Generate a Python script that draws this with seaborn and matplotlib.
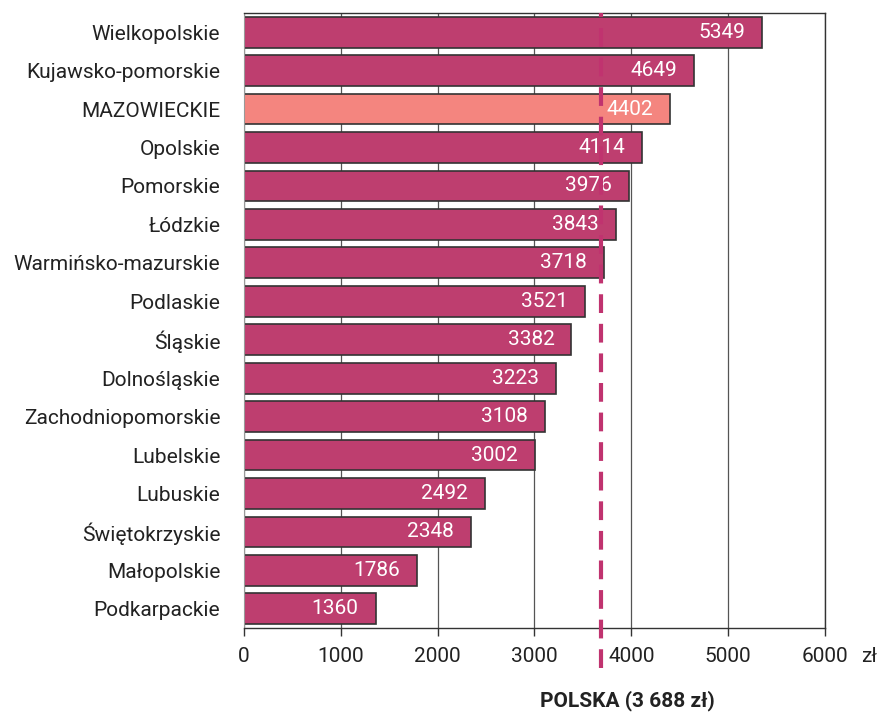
import matplotlib
matplotlib.use("Agg")
import matplotlib.pyplot as plt
import seaborn as sns
import pandas as pd

# data
regions = ["Wielkopolskie", "Kujawsko-pomorskie", "MAZOWIECKIE", "Opolskie", "Pomorskie",
           "Łódzkie", "Warmińsko-mazurskie", "Podlaskie", "Śląskie", "Dolnośląskie",
           "Zachodniopomorskie", "Lubelskie", "Lubuskie", "Świętokrzyskie", "Małopolskie",
           "Podkarpackie"]
values = [5349, 4649, 4402, 4114, 3976, 3843, 3718, 3521, 3382, 3223, 3108, 3002,
          2492, 2348, 1786, 1360]
polska = 3688
x_ticks = [0, 1000, 2000, 3000, 4000, 5000, 6000]

df = pd.DataFrame({"region": regions, "value": values})

sns.set_style("white")
plt.rcParams["font.family"] = ["Roboto", "DejaVu Sans"]

bar_color = "#BE3E6F"
highlight = "#F4857F"
palette = {r: (highlight if r == "MAZOWIECKIE" else bar_color) for r in regions}

fs = 15

fig = plt.figure(figsize=(8.77, 7.15), dpi=100)
ax = fig.add_axes([0.278, 0.1217, 0.6627, 0.8601])

ax.set_axisbelow(True)
ax.xaxis.grid(True, color="#555555", linewidth=0.9)
ax.yaxis.grid(False)

sns.barplot(data=df, x="value", y="region", hue="region", palette=palette, legend=False,
            orient="h", width=0.8, edgecolor="#333333", linewidth=1.2, saturation=1, ax=ax)

ax.set_xlim(0, 6000)
ax.set_xticks(x_ticks)
ax.set_xticklabels([str(t) for t in x_ticks], fontsize=fs, color="#222222")
ax.set_xlabel("")
ax.set_ylabel("")
ax.tick_params(axis="y", labelsize=fs, labelcolor="#222222", length=0, pad=17)
ax.tick_params(axis="x", length=6, width=1, color="#333333", direction="out", pad=8,
               bottom=True)
for s in ["top", "right", "bottom"]:
    ax.spines[s].set_color("#333333")
    ax.spines[s].set_linewidth(1)
ax.spines["left"].set_color("#999999")

# value labels inside bars
for i, v in enumerate(values):
    ax.annotate(str(v), xy=(v, i), xytext=(-17, 0), textcoords="offset pixels",
                ha="right", va="center", color="white", fontsize=fs)

# national average
ax.axvline(polska, ymin=-0.065, ymax=1.0, color="#C0336F", linewidth=3,
           linestyle=(0, (4.5, 2.6)), clip_on=False, zorder=5)

ax.annotate("zł", xy=(1.0, 0), xycoords="axes fraction", xytext=(26, -14),
            textcoords="offset points", ha="left", va="top", fontsize=fs,
            color="#222222", annotation_clip=False)
ax.text(0.66, -0.118, "POLSKA (3 688 zł)", transform=ax.transAxes, ha="center",
        va="center", fontsize=fs, fontweight="bold", color="#222222", clip_on=False)

fig.savefig("out.png", dpi=100)
